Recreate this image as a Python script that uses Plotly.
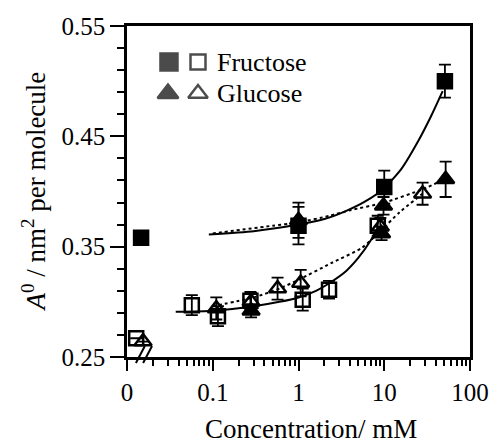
import plotly.graph_objects as go

# ---------------- data ----------------
# concentration (mM); 0 = no sugar (plotted on the broken part of the axis)
fru_fill_conc = [0, 1.0, 10.0, 51.0]
fru_fill_area = [0.358, 0.369, 0.404, 0.500]
fru_fill_err = [0.0, 0.017, 0.015, 0.015]

fru_open_conc = [0, 0.057, 0.115, 0.275, 1.12, 2.27, 8.4]
fru_open_area = [0.267, 0.297, 0.287, 0.301, 0.302, 0.311, 0.369]
fru_open_err = [0.0, 0.009, 0.009, 0.008, 0.010, 0.008, 0.009]

glu_fill_conc = [0.28, 1.0, 9.3, 9.8, 52.0]
glu_fill_area = [0.292, 0.374, 0.362, 0.387, 0.411]
glu_fill_err = [0.006, 0.016, 0.006, 0.008, 0.016]

glu_open_conc = [0, 0.11, 0.28, 0.57, 1.06, 9.0, 28.0]
glu_open_area = [0.264, 0.294, 0.300, 0.312, 0.317, 0.368, 0.398]
glu_open_err = [0.0, 0.010, 0.008, 0.010, 0.012, 0.008, 0.010]

# fitted curves
fit_fru_fill_x = [0.09, 0.3, 1.0, 2.0, 3.5, 6.0, 10.0, 16.0, 25.0, 35.0, 48.0]
fit_fru_fill_y = [0.361, 0.364, 0.370, 0.375, 0.382, 0.391, 0.403, 0.421, 0.446, 0.468, 0.491]

fit_glu_fill_x = [0.1, 0.5, 1.0, 2.3, 4.0, 10.0, 28.0, 50.0]
fit_glu_fill_y = [0.362, 0.369, 0.372, 0.378, 0.383, 0.390, 0.402, 0.411]

fit_fru_open_x = [0.037, 0.1, 0.3, 0.6, 1.0, 1.6, 2.4, 3.6, 5.0, 7.0, 8.5]
fit_fru_open_y = [0.291, 0.292, 0.296, 0.300, 0.304, 0.310, 0.318, 0.328, 0.340, 0.356, 0.368]

fit_glu_open_x = [0.1, 0.3, 0.6, 1.0, 2.4, 5.5, 9.0, 15.0, 28.0]
fit_glu_open_y = [0.296, 0.304, 0.312, 0.320, 0.335, 0.349, 0.364, 0.381, 0.398]

x_tick_vals = [0.01, 0.1, 1, 10, 100]
x_tick_text = ["0", "0.1", "1", "10", "100"]

# where concentration 0 is drawn on the broken log axis (per series, slight offsets)
ZERO_AT = {"fru_fill": 0.0146, "fru_open": 0.0128, "glu_open": 0.0154}


def disp(conc, key):
    return [c if c > 0 else ZERO_AT.get(key, 0.014) for c in conc]


FONT = "Liberation Serif"
BLACK = "#000000"

fig = go.Figure()

# fit curves
for fx, fy, dash in [
    (fit_fru_fill_x, fit_fru_fill_y, "solid"),
    (fit_glu_fill_x, fit_glu_fill_y, "dot"),
    (fit_fru_open_x, fit_fru_open_y, "solid"),
    (fit_glu_open_x, fit_glu_open_y, "dot"),
]:
    fig.add_trace(go.Scatter(
        x=fx, y=fy, mode="lines",
        line=dict(color=BLACK, width=2, dash=dash, shape="spline", smoothing=0.6),
        showlegend=False, hoverinfo="skip"))


def pts(conc, area, err, key, symbol, size):
    fig.add_trace(go.Scatter(
        x=disp(conc, key), y=area, mode="markers",
        error_y=dict(type="data", array=err, visible=True, color=BLACK, thickness=1.8, width=6),
        marker=dict(symbol=symbol, size=size, color=BLACK, opacity=1,
                    line=dict(color=BLACK, width=2.5)),
        showlegend=False, cliponaxis=False))


pts(glu_open_conc, glu_open_area, glu_open_err, "glu_open", "triangle-up-open", 15)
pts(fru_open_conc, fru_open_area, fru_open_err, "fru_open", "square-open", 14)
pts(glu_fill_conc, glu_fill_area, glu_fill_err, "glu_fill", "triangle-up", 15)
pts(fru_fill_conc, fru_fill_area, fru_fill_err, "fru_fill", "square", 14)

# legend symbols on an overlay [0,1] axis
leg_x = [0.1224, 0.207, 0.1195, 0.207]
leg_y = [0.891, 0.891, 0.796, 0.796]
leg_sym = ["square", "square-open", "triangle-up", "triangle-up-open"]
leg_size = [17, 15, 18, 17]
fig.add_trace(go.Scatter(
    x=leg_x, y=leg_y, xaxis="x2", yaxis="y2", mode="markers",
    marker=dict(symbol=leg_sym, size=leg_size, color=BLACK, line=dict(color=BLACK, width=2.5)),
    showlegend=False, cliponaxis=False, hoverinfo="skip"))

fig.add_annotation(text="Fructose", xref="paper", yref="paper", x=0.258, y=0.890,
                   xanchor="left", yanchor="middle", showarrow=False,
                   font=dict(family=FONT, size=26, color=BLACK))
fig.add_annotation(text="Glucose", xref="paper", yref="paper", x=0.258, y=0.797,
                   xanchor="left", yanchor="middle", showarrow=False,
                   font=dict(family=FONT, size=26, color=BLACK))

# axis titles
fig.add_annotation(text="Concentration/ mM", xref="paper", yref="paper", x=0.536, y=-0.217,
                   xanchor="center", yanchor="middle", showarrow=False,
                   font=dict(family=FONT, size=27, color=BLACK))
fig.add_annotation(text="<i>A</i><sup>0</sup> / nm<sup>2</sup> per molecule",
                   xref="paper", yref="paper", x=-0.274, y=0.5, textangle=-90,
                   xanchor="center", yanchor="middle", showarrow=False,
                   font=dict(family=FONT, size=27, color=BLACK))

# axis break marks
for x0 in [0.026, 0.047]:
    fig.add_shape(type="line", xref="paper", yref="paper",
                  x0=x0, y0=-0.018, x1=x0 + 0.026, y1=0.033,
                  line=dict(color=BLACK, width=2))

minor_x = [m * d for d in (0.01, 0.1, 1, 10) for m in range(2, 10)]

fig.update_layout(
    width=491, height=444,
    margin=dict(l=127, r=21, t=26, b=87),
    paper_bgcolor="white", plot_bgcolor="white",
    font=dict(family=FONT, color=BLACK),
    xaxis=dict(
        type="log", range=[-2, 2], automargin=False,
        tickmode="array", tickvals=x_tick_vals, ticktext=x_tick_text,
        ticks="outside", ticklen=11, tickwidth=2, tickcolor=BLACK,
        minor=dict(tickmode="array", tickvals=minor_x, ticks="outside", ticklen=6,
                   tickwidth=1.5, tickcolor=BLACK, showgrid=False),
        showline=True, linewidth=2.5, linecolor=BLACK, mirror=True,
        showgrid=False, zeroline=False,
        tickfont=dict(family=FONT, size=25, color=BLACK),
    ),
    yaxis=dict(
        range=[0.25, 0.55], tickmode="linear", tick0=0.25, dtick=0.1, tickformat=".2f",
        automargin=False,
        ticks="outside", ticklen=14, tickwidth=2, tickcolor=BLACK,
        minor=dict(tickmode="linear", tick0=0.25, dtick=0.02, ticks="outside", ticklen=7,
                   tickwidth=1.5, tickcolor=BLACK, showgrid=False),
        showline=True, linewidth=2.5, linecolor=BLACK, mirror=True,
        showgrid=False, zeroline=False,
        tickfont=dict(family=FONT, size=25, color=BLACK),
    ),
    xaxis2=dict(overlaying="x", range=[0, 1], visible=False, showticklabels=False, fixedrange=True),
    yaxis2=dict(overlaying="y", range=[0, 1], visible=False, showticklabels=False, fixedrange=True),
)

fig.write_html("out.html")
